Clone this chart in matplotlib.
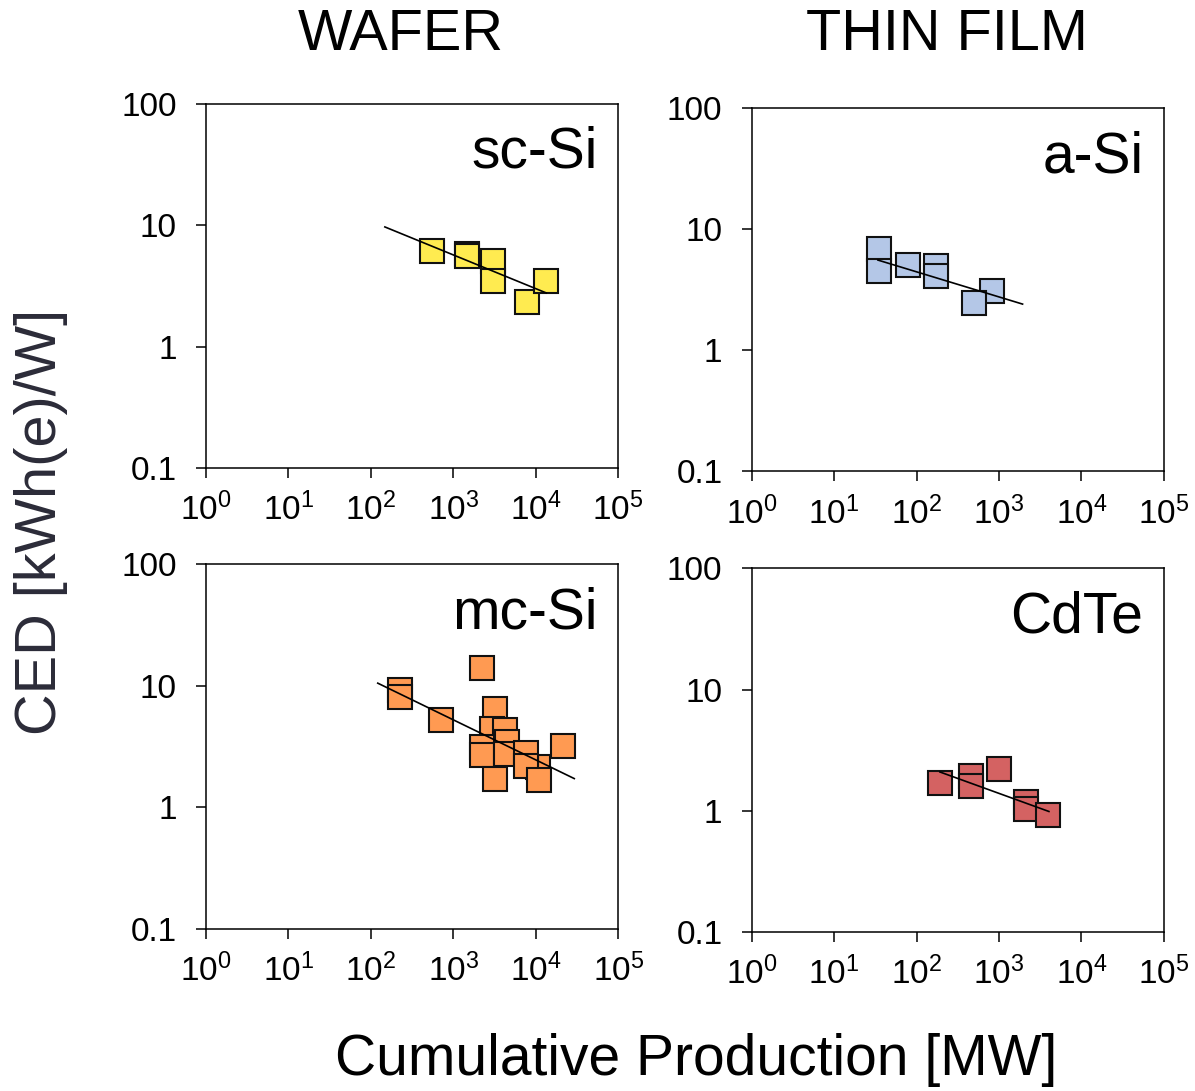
import numpy as np
import matplotlib
matplotlib.use("Agg")
import matplotlib.pyplot as plt
from matplotlib.ticker import FixedLocator, FixedFormatter, NullLocator

plt.rcParams["font.family"] = ["Liberation Sans", "DejaVu Sans"]
plt.rcParams["mathtext.fontset"] = "custom"
plt.rcParams["mathtext.rm"] = "Liberation Sans"
plt.rcParams["mathtext.it"] = "Liberation Sans"

# cumulative production [MW] and CED [kWh(e)/W] per technology
sc_si_x = [550, 1450, 1450, 3000, 3000, 7900, 13300]
sc_si_y = [6.1, 5.85, 5.55, 5.1, 3.45, 2.33, 3.45]
sc_si_fit_x = [148, 13500]
sc_si_fit_y = [9.7, 2.77]

a_si_x = [35, 35, 78, 172, 172, 813, 500]
a_si_y = [6.9, 4.5, 5.07, 4.97, 4.11, 3.07, 2.46]
a_si_fit_x = [34, 1930]
a_si_fit_y = [5.57, 2.41]

mc_si_x = [2200, 228, 228, 711, 3240, 2920, 4200, 4410, 2200, 2200,
           3240, 4290, 10500, 7500, 7640, 10860, 21200]
mc_si_y = [14.1, 9.3, 8.05, 5.25, 6.47, 4.43, 4.29, 3.41, 3.12, 2.67,
           1.72, 2.76, 2.15, 2.80, 2.18, 1.68, 3.17]
mc_si_fit_x = [121, 29250]
mc_si_fit_y = [10.5, 1.72]

cdte_x = [192, 460, 460, 1012, 2130, 2130, 3890]
cdte_y = [1.68, 1.93, 1.59, 2.23, 1.18, 1.03, 0.915]
cdte_fit_x = [192, 4030]
cdte_fit_y = [2.09, 0.987]

x_ticks = [1, 10, 100, 1000, 10000, 100000]
x_tick_labels = [r"$\mathdefault{10^{%d}}$" % k for k in range(6)]
y_ticks = [0.1, 1, 10, 100]
y_tick_labels = ["0.1", "1", "10", "100"]

panels = [
    ("sc-Si", sc_si_x, sc_si_y, sc_si_fit_x, sc_si_fit_y, "#FFEB50",
     [0.1724, 0.5710, 0.3448, 0.3337]),
    ("a-Si", a_si_x, a_si_y, a_si_fit_x, a_si_fit_y, "#B4C7E7",
     [0.6290, 0.5680, 0.3450, 0.3327]),
    ("mc-Si", mc_si_x, mc_si_y, mc_si_fit_x, mc_si_fit_y, "#FF9A52",
     [0.1724, 0.1488, 0.3450, 0.3340]),
    ("CdTe", cdte_x, cdte_y, cdte_fit_x, cdte_fit_y, "#D46262",
     [0.6290, 0.1457, 0.3450, 0.3334]),
]

fig = plt.figure(figsize=(11.95, 10.91), dpi=100)

for name, xs, ys, fx, fy, color, rect in panels:
    ax = fig.add_axes(rect)
    ax.set_xscale("log")
    ax.set_yscale("log")
    ax.set_xlim(1, 1e5)
    ax.set_ylim(0.1, 100)
    ax.plot(xs, ys, ls="none", marker="s", ms=17.5, mfc=color,
            mec="#111111", mew=1.5, zorder=3)
    ax.plot(fx, fy, color="black", lw=1.2, zorder=4)

    ax.xaxis.set_major_locator(FixedLocator(x_ticks))
    ax.xaxis.set_major_formatter(FixedFormatter(x_tick_labels))
    ax.yaxis.set_major_locator(FixedLocator(y_ticks))
    ax.yaxis.set_major_formatter(FixedFormatter(y_tick_labels))
    ax.xaxis.set_minor_locator(NullLocator())
    ax.yaxis.set_minor_locator(NullLocator())
    ax.tick_params(direction="out", length=7, width=1.1, labelsize=24,
                   colors="black")
    ax.tick_params(axis="y", pad=14)
    ax.tick_params(axis="x", pad=11)
    for sp in ax.spines.values():
        sp.set_linewidth(1.1)
        sp.set_color("black")

    ax.text(0.95, 0.94, name, transform=ax.transAxes, ha="right", va="top",
            fontsize=41)

fig.text(0.3356, 0.968, "WAFER", ha="center", va="center", fontsize=41.5)
fig.text(0.792, 0.968, "THIN FILM", ha="center", va="center", fontsize=41.5)
fig.text(0.034, 0.5215, "CED [kWh(e)/W]", rotation=90, ha="center",
         va="center", fontsize=41.5, color="#2B2B38")
fig.text(0.583, 0.028, "Cumulative Production [MW]", ha="center",
         va="center", fontsize=41)

fig.savefig("out.png", dpi=100)
